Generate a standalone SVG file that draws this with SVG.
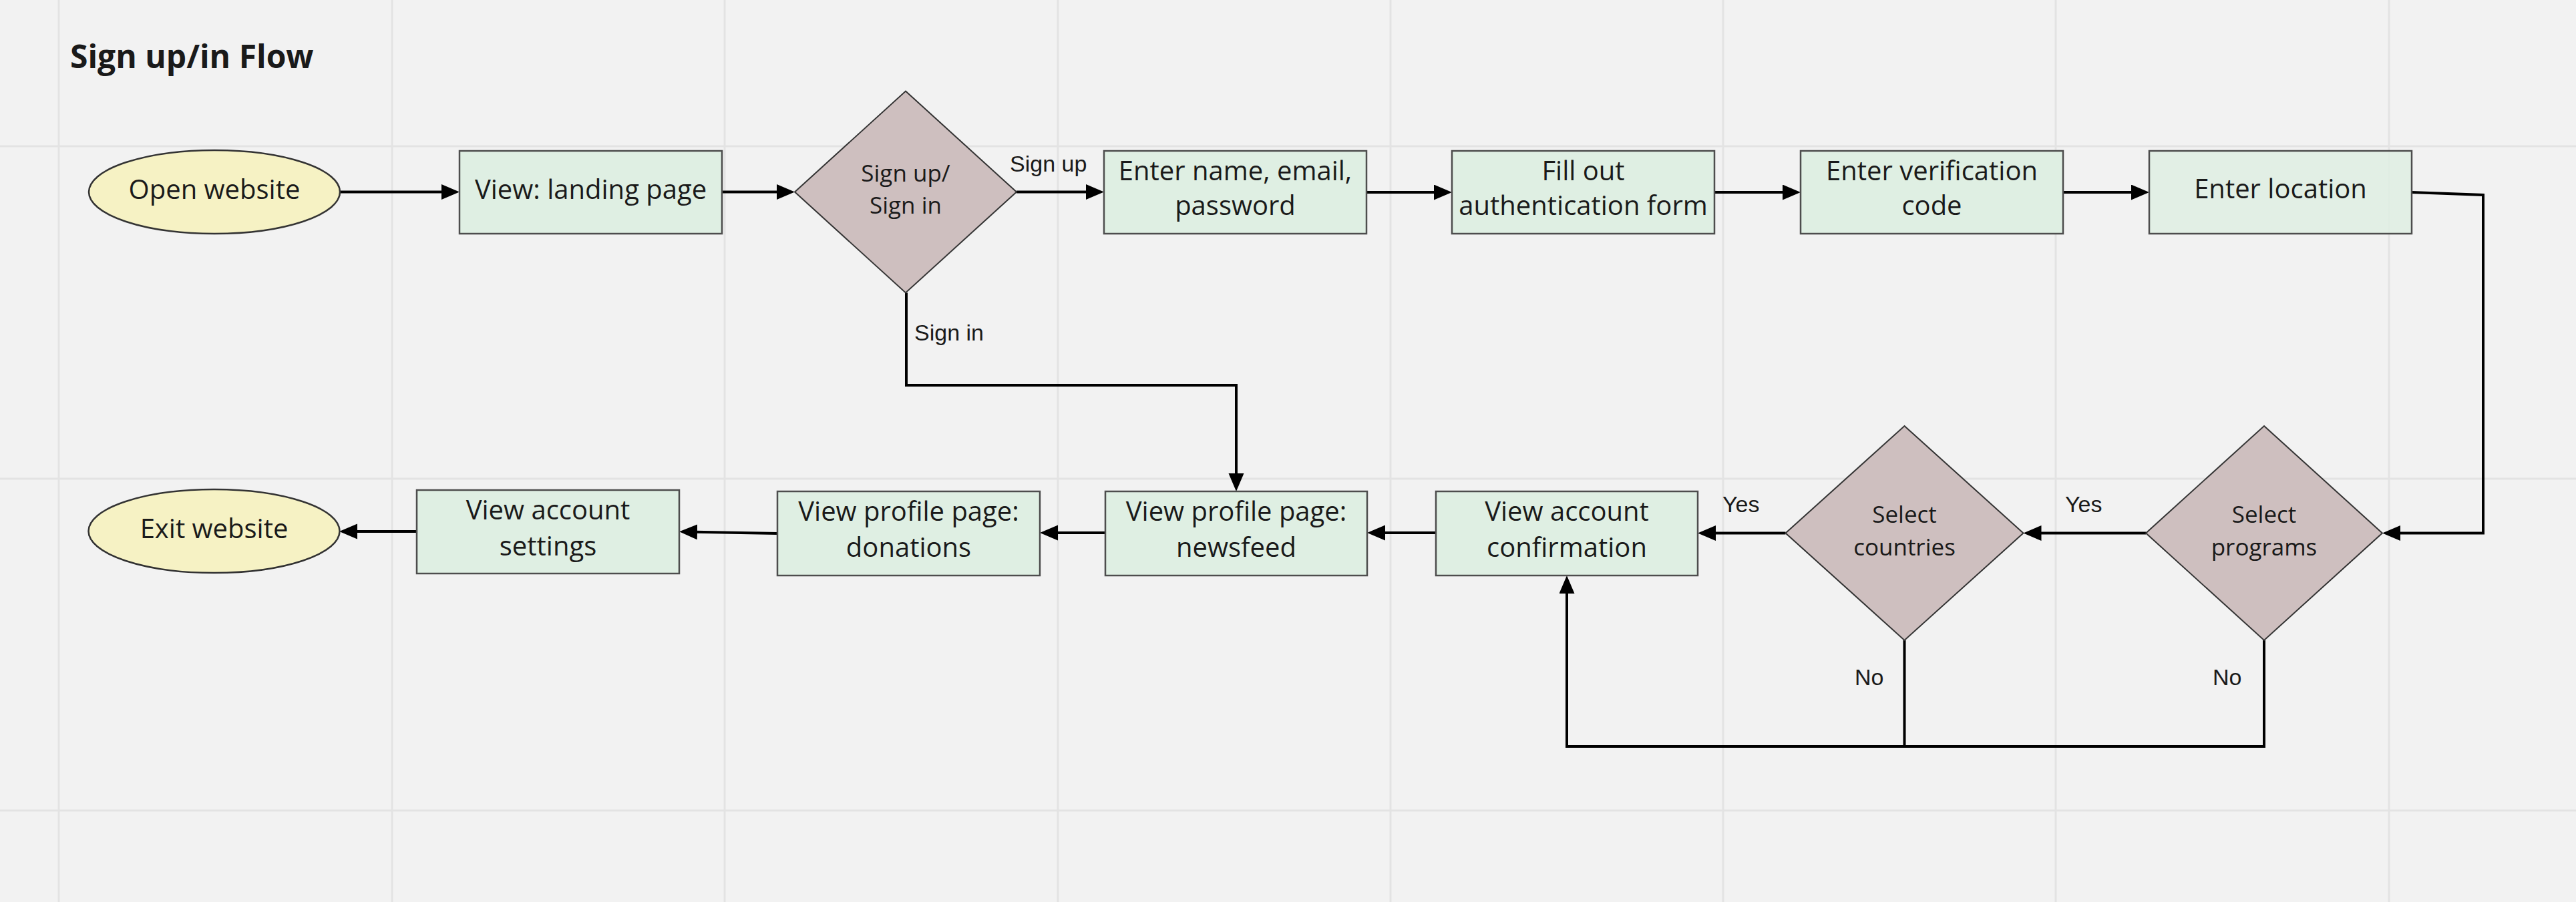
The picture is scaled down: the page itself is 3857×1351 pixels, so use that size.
<svg xmlns="http://www.w3.org/2000/svg" width="3857" height="1351" viewBox="0 0 3857 1351">
<defs>
<style>
.grid{stroke:#e3e3e3;stroke-width:3;fill:none}
.box{fill:#dfefe3;stroke:#4d4d4d;stroke-width:2.5}
.term{fill:#f6f2c4;stroke:#333;stroke-width:2.5}
.dec{fill:#cebfbf;stroke:#333;stroke-width:2}
.t{font-family:'Open Sans','Noto Sans','DejaVu Sans',sans-serif;font-size:40px;fill:#1a1a1a;text-anchor:middle}
.td{font-family:'Open Sans','Noto Sans','DejaVu Sans',sans-serif;font-size:35px;fill:#1a1a1a;text-anchor:middle}
.lbl{font-family:'Liberation Sans',Arial,sans-serif;font-size:34px;fill:#1a1a1a}
.title{font-family:'Open Sans','Noto Sans','DejaVu Sans',sans-serif;font-size:48px;font-weight:bold;fill:#1a1a1a}
.c{stroke:#000;stroke-width:4;fill:none}
</style>
<marker id="ah" markerUnits="userSpaceOnUse" markerWidth="28" markerHeight="24" refX="17" refY="11.5" orient="auto">
<path d="M0,0 L27,11.5 L0,23 z" fill="#000"/>
</marker>
</defs>
<rect width="3857" height="1351" fill="#f2f2f2"/>
<g id="grid">
<path class="grid" d="M88,0V1351M587,0V1351M1085,0V1351M1584,0V1351M2082,0V1351M2580,0V1351M3078,0V1351M3577,0V1351M0,219H3857M0,717H3857M0,1214H3857"/>
</g>
<text class="title" x="105" y="102">Sign up/in Flow</text>
<g id="connectors">
<path class="c" marker-end="url(#ah)" d="M510,287.5H678"/>
<path class="c" marker-end="url(#ah)" d="M1081,287.5H1180"/>
<path class="c" marker-end="url(#ah)" d="M1522,287.5H1643"/>
<path class="c" marker-end="url(#ah)" d="M2046,288H2164"/>
<path class="c" marker-end="url(#ah)" d="M2567,288H2686"/>
<path class="c" marker-end="url(#ah)" d="M3089,288H3208"/>
<path class="c" marker-end="url(#ah)" d="M3611,288L3718,292V798.5H3577"/>
<path class="c" marker-end="url(#ah)" d="M3213,798.5H3039.5"/>
<path class="c" marker-end="url(#ah)" d="M2673.5,798.5H2552"/>
<path class="c" marker-end="url(#ah)" d="M2150,798H2057"/>
<path class="c" marker-end="url(#ah)" d="M1655,798H1567"/>
<path class="c" marker-end="url(#ah)" d="M1164,799L1027,796.5"/>
<path class="c" marker-end="url(#ah)" d="M624,796H518"/>
<path class="c" marker-end="url(#ah)" d="M1357,438.5V577H1851V726"/>
<path class="c" d="M2851.5,959V1118"/>
<path class="c" marker-end="url(#ah)" d="M3390,959V1118H2346V872"/>
<text class="lbl" x="1512" y="257">Sign up</text>
<text class="lbl" x="1369" y="510">Sign in</text>
<text class="lbl" x="3092" y="767">Yes</text>
<text class="lbl" x="2579" y="767">Yes</text>
<text class="lbl" x="2777" y="1026">No</text>
<text class="lbl" x="3313" y="1026">No</text>
</g>
<g id="open-website">
<ellipse class="term" cx="321" cy="287.5" rx="188" ry="62.5"/>
<text class="t" x="321" y="298">Open website</text>
</g>
<g id="landing-page">
<rect class="box" x="688" y="226" width="393" height="124"/>
<text class="t" x="884.5" y="298">View: landing page</text>
</g>
<g id="sign-up-in">
<polygon class="dec" points="1356,136.5 1522,287.5 1356,438.5 1190,287.5"/>
<text class="td" x="1356" y="272">Sign up/</text>
<text class="td" x="1356" y="320">Sign in</text>
</g>
<g id="enter-name">
<rect class="box" x="1653" y="226" width="393" height="124"/>
<text class="t" x="1849.5" y="270">Enter name, email,</text>
<text class="t" x="1849.5" y="322">password</text>
</g>
<g id="fill-out">
<rect class="box" x="2174" y="226" width="393" height="124"/>
<text class="t" x="2370.5" y="270">Fill out</text>
<text class="t" x="2370.5" y="322">authentication form</text>
</g>
<g id="verification">
<rect class="box" x="2696" y="226" width="393" height="124"/>
<text class="t" x="2892.5" y="270">Enter verification</text>
<text class="t" x="2892.5" y="322">code</text>
</g>
<g id="location">
<rect class="box" x="3218" y="226" width="393" height="124" fill-opacity="0.85"/>
<text class="t" x="3414.5" y="297">Enter location</text>
</g>
<g id="select-programs">
<polygon class="dec" points="3390,638 3567,798.5 3390,959 3213,798.5"/>
<text class="td" x="3390" y="783">Select</text>
<text class="td" x="3390" y="832">programs</text>
</g>
<g id="select-countries">
<polygon class="dec" points="2851.5,638 3029.5,798.5 2851.5,959 2673.5,798.5"/>
<text class="td" x="2851.5" y="783">Select</text>
<text class="td" x="2851.5" y="832">countries</text>
</g>
<g id="confirmation">
<rect class="box" x="2150" y="736" width="392" height="126"/>
<text class="t" x="2346" y="780">View account</text>
<text class="t" x="2346" y="834">confirmation</text>
</g>
<g id="newsfeed">
<rect class="box" x="1655" y="736" width="392" height="126"/>
<text class="t" x="1851" y="780">View profile page:</text>
<text class="t" x="1851" y="834">newsfeed</text>
</g>
<g id="donations">
<rect class="box" x="1164" y="736" width="393" height="126"/>
<text class="t" x="1360.5" y="780">View profile page:</text>
<text class="t" x="1360.5" y="834">donations</text>
</g>
<g id="settings">
<rect class="box" x="624" y="734" width="393" height="125"/>
<text class="t" x="820.5" y="778">View account</text>
<text class="t" x="820.5" y="832">settings</text>
</g>
<g id="exit-website">
<ellipse class="term" cx="320.5" cy="795.5" rx="188" ry="62.5"/>
<text class="t" x="320.5" y="806">Exit website</text>
</g>
</svg>
